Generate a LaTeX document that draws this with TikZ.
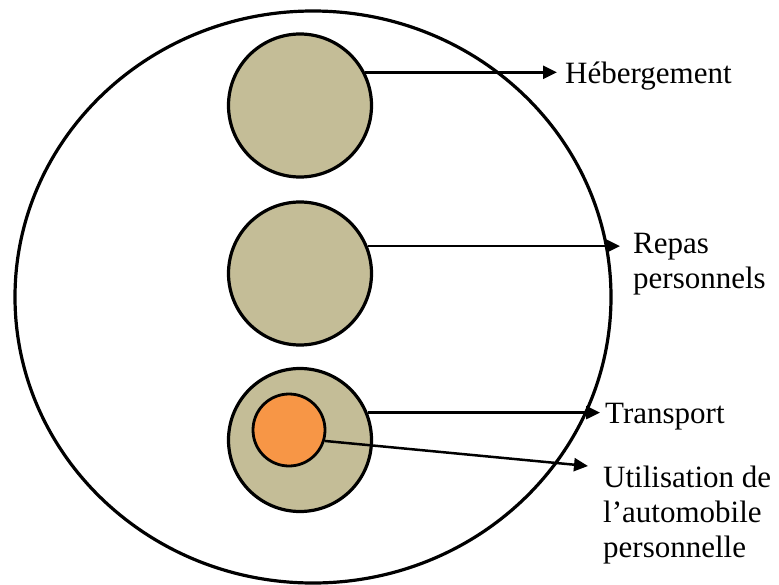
\documentclass[tikz,border=0pt]{standalone}
\usepackage{fontspec}
\setmainfont{Liberation Serif}
\usetikzlibrary{arrows.meta}
\definecolor{tanfill}{HTML}{C4BD97}
\definecolor{orangefill}{HTML}{F79646}
\begin{document}
\begin{tikzpicture}[x=1pt,y=-1pt,
  outer/.style={draw=black,line width=3.2pt},
  bubble/.style={circle,draw=black,line width=3.2pt,fill=tanfill,minimum size=143pt,inner sep=0pt},
  inner bubble/.style={circle,draw=black,line width=2.8pt,fill=orangefill,minimum size=72pt,inner sep=0pt},
  lbl/.style={font=\fontsize{31}{35}\selectfont,align=left,inner ysep=0pt},
  conn/.style={line width=2.5pt,-{Triangle[length=14pt,width=13pt]}}]
\useasboundingbox (0,0) rectangle (779,584);
\draw[outer] (313,297) ellipse [x radius=298pt, y radius=286pt];
\node[bubble] (c1) at (300,105.5) {};
\node[bubble] (c2) at (300,273.5) {};
\node[bubble] (c3) at (300,440) {};
\node[inner bubble] (c4) at (289,430) {};
\node[lbl,anchor=base west,inner xsep=8pt] (heb) at (557,83) {Hébergement};
\node[lbl,anchor=north west,inner xsep=13pt] (rep) at (620,233) {Repas\\personnels};
\node[lbl,anchor=base west,inner xsep=5pt] (tra) at (600,423) {Transport};
\node[lbl,anchor=north west,inner xsep=15pt] (uti) at (588,466) {Utilisation de\\l’automobile\\personnelle};
\draw[conn] (c1.27) -- (c1.27 -| heb.west);
\draw[conn] (c2.22) -- (c2.22 -| rep.west);
\draw[conn] (c3.22) -- (c3.22 -| tra.west);
\draw[conn] (c4.-17) -- (uti.north west);
\end{tikzpicture}
\end{document}
